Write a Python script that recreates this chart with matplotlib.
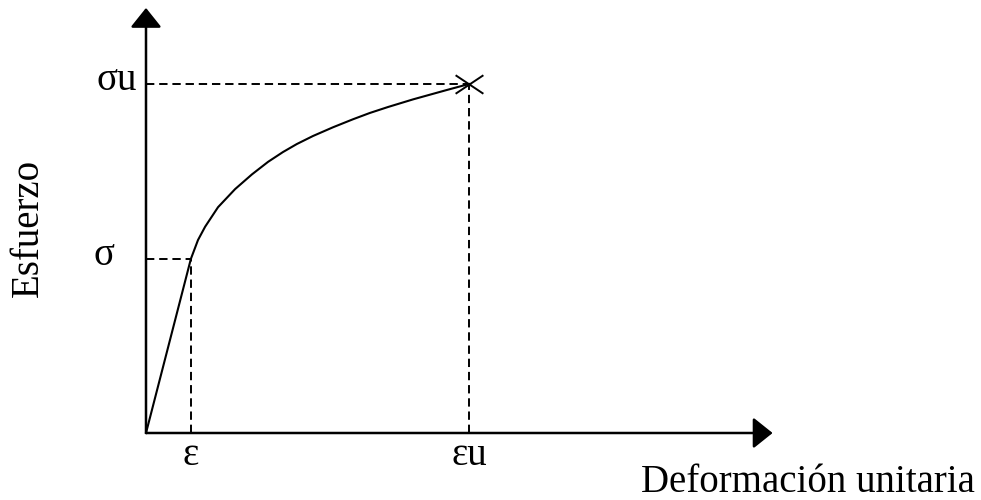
"""Stress-strain sketch: elastic line, hardening curve, yield and ultimate
points marked with dashed guides on bare arrowed axes."""

import matplotlib

matplotlib.use("Agg")

import matplotlib.pyplot as plt  # noqa: E402
from matplotlib.path import Path  # noqa: E402

plt.rcParams["font.family"] = ["Liberation Serif", "DejaVu Serif"]
plt.rcParams["lines.scale_dashes"] = False

# normalised so that the ultimate point is (1, 1)
strain = [0.0, 0.139, 0.161, 0.183, 0.223, 0.276, 0.328, 0.378, 0.424,
          0.467, 0.517, 0.579, 0.641, 0.693, 0.749, 0.827, 0.932, 1.0]
stress = [0.0, 0.499, 0.553, 0.591, 0.647, 0.699, 0.741, 0.777, 0.805,
          0.828, 0.851, 0.876, 0.899, 0.917, 0.934, 0.956, 0.983, 1.0]

eps_y, sig_y = 0.139, 0.499
eps_u, sig_u = 1.0, 1.0

x_tick_labels = ["ε", "εu"]
y_tick_labels = ["σ", "σu"]
x_label = "Deformación unitaria"
y_label = "Esfuerzo"

# axis arrow reach, in the same normalised units
x_axis_end = 1.94
y_axis_end = 1.218

FS = 28

fig = plt.figure(figsize=(9.81, 5.0), dpi=100)
ax = fig.add_axes([0, 0, 1, 1])
ax.set_xlim(-146 / 323, (981 - 146) / 323)
ax.set_ylim(-(500 - 433) / 349, 433 / 349)
ax.axis("off")

arrow = dict(arrowstyle="-|>,head_length=0.6,head_width=0.48",
             mutation_scale=20, lw=1.8, color="black",
             shrinkA=0, shrinkB=0)
ax.annotate("", xy=(x_axis_end, 0), xytext=(0, 0), arrowprops=arrow)
ax.annotate("", xy=(0, y_axis_end), xytext=(0, 0), arrowprops=arrow)

dash = dict(color="black", lw=1.4, dashes=(6, 3.5))
for ex, sy in [(eps_y, sig_y), (eps_u, sig_u)]:
    ax.plot([0, ex], [sy, sy], **dash)
    ax.plot([ex, ex], [0, sy], **dash)

ax.plot(strain, stress, color="black", lw=1.5, solid_joinstyle="round")

cross = Path([(-1.5, 1), (1.5, -1), (-1.5, -1), (1.5, 1)],
             [Path.MOVETO, Path.LINETO, Path.MOVETO, Path.LINETO])
ax.plot([eps_u], [sig_u], marker=cross, markersize=20, color="black",
        markeredgewidth=1.4, linestyle="none")

for sy, lab in zip([sig_y, sig_u], y_tick_labels):
    ax.annotate(lab, xy=(0, sy), xytext=(-52 if lab == "σ" else -49, -6),
                textcoords="offset pixels", ha="left", va="baseline",
                fontsize=FS)
for ex, lab in zip([eps_y, eps_u], x_tick_labels):
    ax.annotate(lab, xy=(ex, 0), xytext=(0, -32),
                textcoords="offset pixels", ha="center", va="baseline",
                fontsize=FS)

fig.text(28 / 981, 1 - 228 / 500, y_label, rotation=90, ha="center",
         va="center", fontsize=FS)
fig.text(975 / 981, 8 / 500, x_label, ha="right", va="baseline", fontsize=FS)

fig.savefig("out.png", dpi=100)
